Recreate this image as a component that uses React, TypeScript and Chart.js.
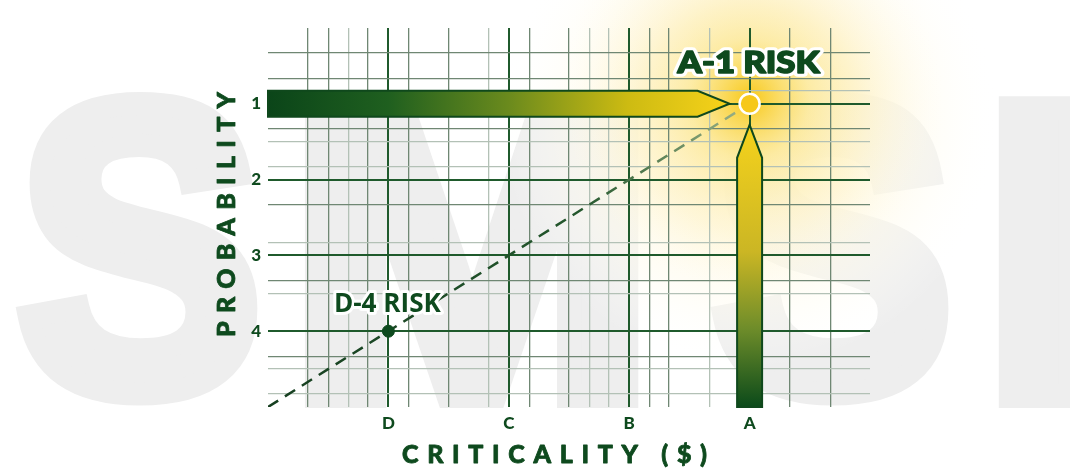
import React, { useEffect, useRef } from 'react';
import { Chart, registerables } from 'chart.js';

Chart.register(...registerables);

// ---- data ----
const criticalityCategories = ['D', 'C', 'B', 'A'];
const criticalityPositions = [1, 2, 3, 4];
const probabilityCategories = ['1', '2', '3', '4'];
const probabilityPositions = [1, 2, 3, 4];
const criticalityMinorTicks = [0.33, 0.5, 0.67, 0.83, 1.17, 1.5, 1.83, 2.17, 2.5, 2.67, 2.83, 3.17, 3.33, 3.67, 4.33, 4.67];
const probabilityMinorTicks = [0.33, 0.67, 0.83, 1.33, 1.5, 1.83, 2.33, 2.83, 3.33, 3.5, 4.33, 4.5, 4.83];
const criticalityFaintTicks = [0.67, 1.83, 2.67, 2.83, 3.67];
const probabilityFaintTicks = [0.83, 1.5, 1.83, 2.83, 3.5, 4.5, 4.83];
const riskLabels = ['A-1 RISK', 'D-4 RISK'];
const riskCriticality = [4, 1];
const riskProbability = [1, 4];
const trendCriticality = [0, 3.88];
const trendProbability = [5, 1.12];
const xAxisTitle = 'CRITICALITY ($)';
const yAxisTitle = 'PROBABILITY';
const watermarkLetters = ['S', 'M', 'S', 'I'];

const GREEN = '#0e4a1e';

const gridColor = (majors: number[], faint: number[]) => (c: any) => {
  const v = c.tick ? c.tick.value : 0;
  if (majors.includes(v)) return '#1f5a2c';
  if (faint.includes(v)) return '#b3c1b6';
  return '#6f8773';
};
const gridWidth = (majors: number[]) => (c: any) => {
  const v = c.tick ? c.tick.value : 0;
  return majors.includes(v) ? 2 : 1.3;
};

const backdropPlugin = {
  id: 'backdrop',
  beforeDraw(chart: any) {
    const { ctx, width, height } = chart;
    const x = chart.scales.x;
    const y = chart.scales.y;
    ctx.save();
    ctx.fillStyle = '#ffffff';
    ctx.fillRect(0, 0, width, height);
    // watermark
    ctx.fillStyle = '#eeeeee';
    ctx.strokeStyle = '#eeeeee';
    ctx.lineJoin = 'miter';
    ctx.miterLimit = 2;
    ctx.font = 'bold 460px "Liberation Sans"';
    ctx.textAlign = 'left';
    ctx.textBaseline = 'alphabetic';
    const boxes = [[13, 262], [303, 645], [708, 953], [997, 1085]];
    const thick = 26;
    watermarkLetters.forEach((ch, i) => {
      const m = ctx.measureText(ch);
      const inkW = m.actualBoundingBoxLeft + m.actualBoundingBoxRight + thick;
      const inkH = m.actualBoundingBoxAscent + m.actualBoundingBoxDescent + thick;
      const [l, r] = boxes[i];
      const top = 90, bottom = 408;
      ctx.save();
      ctx.translate(l, bottom);
      ctx.scale((r - l) / inkW, (bottom - top) / inkH);
      ctx.lineWidth = thick;
      const px = m.actualBoundingBoxLeft + thick / 2;
      const py = -m.actualBoundingBoxDescent - thick / 2;
      ctx.fillText(ch, px, py);
      ctx.strokeText(ch, px, py);
      ctx.restore();
    });
    // glow around A-1
    const cx = x.getPixelForValue(riskCriticality[0]);
    const cy = y.getPixelForValue(riskProbability[0]) - 5;
    const cream = ctx.createRadialGradient(cx, cy + 20, 0, cx, cy + 20, 250);
    cream.addColorStop(0, 'rgba(255,246,205,1)');
    cream.addColorStop(0.45, 'rgba(255,248,222,0.85)');
    cream.addColorStop(0.75, 'rgba(255,252,240,0.45)');
    cream.addColorStop(1, 'rgba(255,255,255,0)');
    ctx.fillStyle = cream;
    ctx.fillRect(cx - 260, 0, 520, cy + 280);
    const g = ctx.createRadialGradient(cx, cy, 0, cx, cy, 200);
    g.addColorStop(0, 'rgba(247,198,15,0.95)');
    g.addColorStop(0.1, 'rgba(248,206,45,0.8)');
    g.addColorStop(0.3, 'rgba(250,220,100,0.45)');
    g.addColorStop(0.6, 'rgba(252,232,160,0.22)');
    g.addColorStop(1, 'rgba(255,255,255,0)');
    ctx.fillStyle = g;
    ctx.fillRect(cx - 210, 0, 420, cy + 210);
    ctx.restore();
  },
  beforeDatasetsDraw(chart: any) {
    const { ctx } = chart;
    const x = chart.scales.x;
    const y = chart.scales.y;
    const xa = x.getPixelForValue(riskCriticality[0]);
    const ya = y.getPixelForValue(riskProbability[0]);
    ctx.save();
    ctx.lineJoin = 'miter';
    ctx.strokeStyle = '#0f481c';
    ctx.lineWidth = 2;
    // horizontal arrow
    const hTip = xa - 20;
    const hHead = hTip - 32;
    const hh = 13;
    const gh = ctx.createLinearGradient(x.left, 0, hTip, 0);
    gh.addColorStop(0, '#0b4519');
    gh.addColorStop(0.26, '#1f5f1f');
    gh.addColorStop(0.52, '#6a8a1d');
    gh.addColorStop(0.78, '#cdbb12');
    gh.addColorStop(1, '#f7d21a');
    ctx.beginPath();
    ctx.moveTo(x.left, ya - hh);
    ctx.lineTo(hHead, ya - hh);
    ctx.lineTo(hTip, ya);
    ctx.lineTo(hHead, ya + hh);
    ctx.lineTo(x.left, ya + hh);
    ctx.closePath();
    ctx.fillStyle = gh;
    ctx.fill();
    ctx.stroke();
    // vertical arrow
    const vTip = ya + 21;
    const vHead = ya + 54;
    const vw = 12.5;
    const gv = ctx.createLinearGradient(0, vTip, 0, y.bottom);
    gv.addColorStop(0, '#f6d31c');
    gv.addColorStop(0.45, '#cbb624');
    gv.addColorStop(0.72, '#6f8d2a');
    gv.addColorStop(1, '#0b4a1a');
    ctx.beginPath();
    ctx.moveTo(xa - vw, y.bottom);
    ctx.lineTo(xa - vw, vHead);
    ctx.lineTo(xa, vTip);
    ctx.lineTo(xa + vw, vHead);
    ctx.lineTo(xa + vw, y.bottom);
    ctx.closePath();
    ctx.fillStyle = gv;
    ctx.fill();
    ctx.stroke();
    ctx.restore();
  },
  afterDraw(chart: any) {
    const { ctx } = chart;
    const x = chart.scales.x;
    const y = chart.scales.y;
    ctx.save();
    ctx.textAlign = 'left';
    ctx.textBaseline = 'alphabetic';
    ctx.lineJoin = 'round';
    // risk labels
    const labelSpecs = [
      { font: '900 30px Lato', width: 142, dx: -1, dy: -31, stroke: 6, bold: 1.6 },
      { font: 'bold 26px "Open Sans"', width: 107, dx: -1, dy: -19, stroke: 6, bold: 0 },
    ];
    riskLabels.forEach((txt, i) => {
      const s = labelSpecs[i];
      const px = x.getPixelForValue(riskCriticality[i]) + s.dx;
      const py = y.getPixelForValue(riskProbability[i]) + s.dy;
      ctx.font = s.font;
      const w = ctx.measureText(txt).width;
      ctx.save();
      ctx.translate(px - s.width / 2, py);
      ctx.scale(s.width / w, 1);
      ctx.strokeStyle = '#ffffff';
      ctx.lineWidth = s.stroke + s.bold;
      ctx.strokeText(txt, 0, 0);
      ctx.fillStyle = GREEN;
      ctx.fillText(txt, 0, 0);
      if (s.bold > 0) {
        ctx.strokeStyle = GREEN;
        ctx.lineWidth = s.bold;
        ctx.strokeText(txt, 0, 0);
      }
      ctx.restore();
    });
    // axis titles with letter spacing
    const drawSpaced = (txt: string, len: number) => {
      ctx.font = '900 25px Lato';
      (ctx as any).letterSpacing = '0px';
      const w0 = ctx.measureText(txt).width;
      const sp = (len - w0) / (txt.length - 1);
      (ctx as any).letterSpacing = sp + 'px';
      ctx.fillStyle = GREEN;
      ctx.strokeStyle = GREEN;
      ctx.lineWidth = 0.8;
      ctx.fillText(txt, 0, 0);
      ctx.strokeText(txt, 0, 0);
      (ctx as any).letterSpacing = '0px';
    };
    ctx.save();
    ctx.translate(402, 463);
    drawSpaced(xAxisTitle, 305);
    ctx.restore();
    ctx.save();
    ctx.translate(235, 337);
    ctx.rotate(-Math.PI / 2);
    drawSpaced(yAxisTitle, 245);
    ctx.restore();
    ctx.restore();
  },
};

export default function App() {
  const ref = useRef<HTMLCanvasElement | null>(null);
  useEffect(() => {
    if (!ref.current) return;
    const xTicks = [...criticalityPositions, ...criticalityMinorTicks].sort((a, b) => a - b);
    const yTicks = [...probabilityPositions, ...probabilityMinorTicks].sort((a, b) => a - b);
    const chart = new Chart(ref.current, {
      type: 'scatter',
      data: {
        datasets: [
          {
            label: 'Risk',
            data: riskCriticality.map((c, i) => ({ x: c, y: riskProbability[i] })),
            pointRadius: [10, 6],
            pointBackgroundColor: ['#f6c81a', GREEN],
            pointBorderColor: ['#ffffff', GREEN],
            pointBorderWidth: [2.5, 1],
            order: 0,
          } as any,
          {
            label: 'Trend',
            data: trendCriticality.map((c, i) => ({ x: c, y: trendProbability[i] })),
            showLine: true,
            pointRadius: 0,
            borderWidth: 2.5,
            borderDash: [12, 8],
            borderColor: (c: any) => {
              const { chart: ch } = c;
              const area = ch.chartArea;
              if (!area) return '#1b4f27';
              const g = ch.ctx.createLinearGradient(area.left, 0, ch.scales.x.getPixelForValue(4), 0);
              g.addColorStop(0, '#163f20');
              g.addColorStop(0.65, '#24572d');
              g.addColorStop(1, '#a0b58a');
              return g;
            },
            order: 1,
          } as any,
        ],
      },
      options: {
        animation: false,
        responsive: false,
        layout: { padding: { left: 228, right: 200, top: 28, bottom: 35 } },
        plugins: { legend: { display: false }, tooltip: { enabled: false } },
        scales: {
          x: {
            type: 'linear',
            min: 0,
            max: 5,
            afterBuildTicks: (s: any) => {
              s.ticks = xTicks.map((v) => ({ value: v }));
            },
            afterFit: (s: any) => {
              s.height = 30;
            },
            ticks: {
              autoSkip: false,
              maxRotation: 0,
              padding: 6,
              color: GREEN,
              font: { family: 'Lato', weight: '900', size: 17 },
              callback: (v: any) => {
                const i = criticalityPositions.indexOf(v);
                return i >= 0 ? criticalityCategories[i] : '';
              },
            },
            grid: {
              drawTicks: false,
              color: gridColor(criticalityPositions, criticalityFaintTicks),
              lineWidth: gridWidth(criticalityPositions),
            },
            border: { display: false },
          },
          y: {
            type: 'linear',
            reverse: true,
            min: 0,
            max: 5,
            afterBuildTicks: (s: any) => {
              s.ticks = yTicks.map((v) => ({ value: v }));
            },
            afterFit: (s: any) => {
              s.width = 40;
            },
            ticks: {
              autoSkip: false,
              padding: 7,
              color: GREEN,
              font: { family: 'Lato', weight: '900', size: 17 },
              callback: (v: any) => {
                const i = probabilityPositions.indexOf(v);
                return i >= 0 ? probabilityCategories[i] : '';
              },
            },
            grid: {
              drawTicks: false,
              color: gridColor(probabilityPositions, probabilityFaintTicks),
              lineWidth: gridWidth(probabilityPositions),
            },
            border: { display: false },
          },
        },
      } as any,
      plugins: [backdropPlugin],
    });
    return () => chart.destroy();
  }, []);
  return (
    <div style={{ position: 'absolute', left: 0, top: 0, width: 1070, height: 472 }}>
      <canvas ref={ref} width={1070} height={472} style={{ display: 'block' }} />
    </div>
  );
}
